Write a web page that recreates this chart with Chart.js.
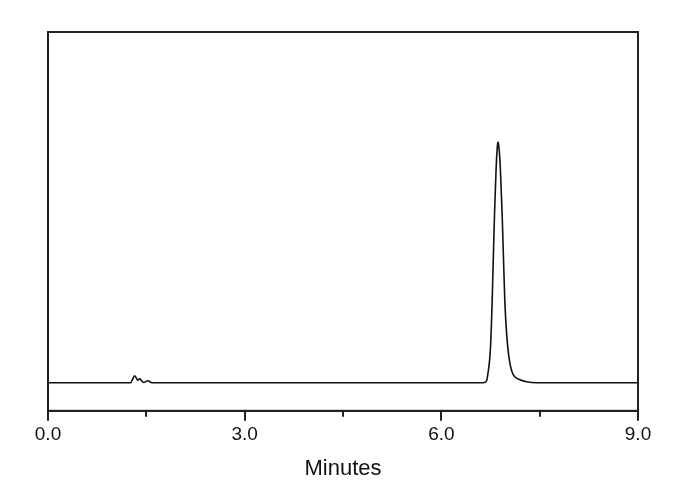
<!DOCTYPE html>
<html>
<head>
<meta charset="utf-8">
<script src="https://cdn.jsdelivr.net/npm/chart.js@4"></script>
<style>
html,body{margin:0;padding:0;background:#fff;}
#wrap{width:690px;height:490px;}
</style>
</head>
<body>
<div id="wrap"><canvas id="c" width="690" height="490"></canvas></div>
<script>
// Retention time (minutes)
const times = [0, 1.20, 1.26, 1.29, 1.32, 1.35, 1.37, 1.40, 1.43, 1.46, 1.50, 1.53, 1.57, 1.62,
  6.55, 6.64, 6.69, 6.716, 6.738, 6.752, 6.765, 6.778, 6.795, 6.812, 6.836, 6.858, 6.866, 6.878, 6.900,
  6.928, 6.950, 6.968, 6.985, 7.010, 7.040, 7.075, 7.12, 7.20, 7.30, 7.45, 9.0];
// Detector response (arbitrary units)
const signal = [0, 0, 0, 3.5, 7, 4.5, 2.5, 4, 2, 0.3, 1.5, 2, 0.3, 0,
  0, 0, 2, 11.6, 24, 38, 60, 88, 130, 170, 215, 239, 241, 236, 215,
  168, 120, 83, 60, 38, 22, 11.6, 6, 3, 1, 0, 0];
const xMajorTicks = ['0.0', '3.0', '6.0', '9.0'];
const xMinorTicks = [1.5, 4.5, 7.5];
const xTitle = 'Minutes';

const points = times.map((t, i) => ({x: t, y: signal[i]}));

const frame = {
  id: 'frame',
  afterDraw(chart) {
    const {ctx, chartArea: a, scales} = chart;
    ctx.save();
    ctx.strokeStyle = '#222';
    ctx.lineWidth = 2;
    ctx.strokeRect(a.left, a.top, a.right - a.left, a.bottom - a.top);
    ctx.beginPath();
    xMinorTicks.forEach(v => {
      const px = Math.round(scales.x.getPixelForValue(v));
      ctx.moveTo(px, a.bottom);
      ctx.lineTo(px, a.bottom + 6);
    });
    ctx.stroke();
    ctx.restore();
  }
};

new Chart(document.getElementById('c'), {
  type: 'line',
  data: {
    datasets: [{
      data: points,
      borderColor: '#111',
      borderWidth: 1.6,
      pointRadius: 0,
      fill: false,
      cubicInterpolationMode: 'monotone'
    }]
  },
  options: {
    responsive: false,
    animation: false,
    layout: {padding: {left: 48, right: 52, top: 32, bottom: 8}},
    plugins: {legend: {display: false}, tooltip: {enabled: false}},
    scales: {
      x: {
        type: 'linear',
        min: 0, max: 9,
        border: {display: true, color: '#222', width: 2},
        grid: {display: true, drawOnChartArea: false, drawTicks: true, tickLength: 10, tickColor: '#222', lineWidth: 2},
        ticks: {
          stepSize: 3,
          padding: 3,
          color: '#111',
          font: {family: 'Liberation Sans, Arial, sans-serif', size: 19},
          callback: (v) => xMajorTicks[Math.round(v / 3)]
        },
        title: {display: true, text: xTitle, color: '#111',
          font: {family: 'Liberation Sans, Arial, sans-serif', size: 22}, padding: {top: 6, bottom: 0}}
      },
      y: {
        display: false,
        min: -28, max: 351
      }
    }
  },
  plugins: [frame]
});
</script>
</body>
</html>
